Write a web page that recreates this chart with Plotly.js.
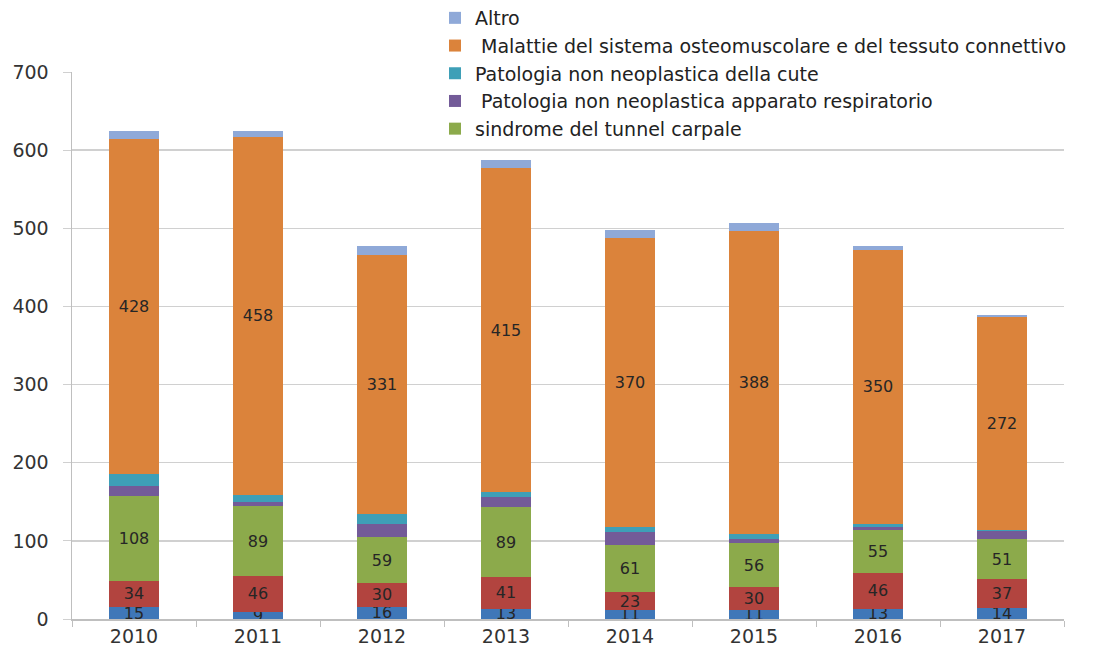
<!DOCTYPE html>
<html>
<head>
<meta charset="utf-8">
<script src="https://cdn.plot.ly/plotly-3.0.1.min.js"></script>
<style>html,body{margin:0;padding:0;background:#fff;}#chart{width:1113px;height:659px;}</style>
</head>
<body>
<div id="chart"></div>
<script>
const years = ['2010','2011','2012','2013','2014','2015','2016','2017'];
const bluePart = [15, 9, 16, 13, 11, 11, 13, 14];
const redPart = [34, 46, 30, 41, 23, 30, 46, 37];
const tunnelCarpale = [108, 89, 59, 89, 61, 56, 55, 51];
const respiratorio = [13, 6, 16, 13, 16, 6, 4, 10];
const cute = [16, 9, 14, 6, 7, 6, 4, 2];
const osteomuscolare = [428, 458, 331, 415, 370, 388, 350, 272];
const altro = [10, 7, 11, 10, 10, 10, 5, 3];

const names = {
  altro: 'Altro',
  osteo: ' Malattie del sistema osteomuscolare e del tessuto connettivo',
  cute: 'Patologia non neoplastica della cute',
  resp: ' Patologia non neoplastica apparato respiratorio',
  tunnel: 'sindrome del tunnel carpale'
};

function tr(name, y, color, labels, legend) {
  return {
    type: 'bar', x: years, y: y, name: name,
    marker: {color: color, line: {width: 0}},
    showlegend: legend,
    text: labels ? y.map(String) : undefined,
    textposition: labels ? 'inside' : 'none',
    insidetextanchor: 'middle',
    textangle: 0,
    textfont: {family: 'DejaVu Sans', size: 16, color: '#262626'},
    hoverinfo: 'x+y+name'
  };
}

const data = [
  tr('Blu', bluePart, '#3f77b8', true, false),
  tr('Rosso', redPart, '#b2443f', true, false),
  tr(names.tunnel, tunnelCarpale, '#8caa4b', true, true),
  tr(names.resp, respiratorio, '#735b98', false, true),
  tr(names.cute, cute, '#3e9fb7', false, true),
  tr(names.osteo, osteomuscolare, '#db833b', true, true),
  tr(names.altro, altro, '#8fa9d8', false, true)
];

const plotW = 1113 - 72 - 49, plotH = 659 - 72 - 40;

const layout = {
  width: 1113, height: 659,
  margin: {l: 72, r: 49, t: 72, b: 40, autoexpand: false},
  paper_bgcolor: '#fff', plot_bgcolor: '#fff',
  barmode: 'stack',
  bargap: 0.6,
  showlegend: true,
  uniformtext: {minsize: 16, mode: 'show'},
  font: {family: 'DejaVu Sans', color: '#333'},
  xaxis: {
    type: 'category',
    showgrid: false,
    showline: true, linecolor: '#bfbfbf', linewidth: 1.5,
    ticks: 'outside', tickson: 'boundaries', ticklen: 6, tickcolor: '#bfbfbf',
    tickfont: {family: 'DejaVu Sans', size: 19, color: '#333'}
  },
  yaxis: {
    range: [0, 700], dtick: 100,
    showgrid: true, gridcolor: '#d0d0d0', gridwidth: 1.5,
    showline: true, linecolor: '#bfbfbf', linewidth: 1.5,
    ticks: 'outside', ticklen: 8, tickcolor: '#d0d0d0',
    ticklabelstandoff: 10,
    zeroline: false,
    tickfont: {family: 'DejaVu Sans', size: 19, color: '#333'}
  },
  legend: {
    xref: 'paper', yref: 'paper',
    traceorder: 'reversed',
    bgcolor: 'rgba(0,0,0,0)',
    font: {family: 'DejaVu Sans', size: 19, color: '#222'},
    xanchor: 'left', yanchor: 'top',
    x: (435 - 72) / plotW,
    y: 1 + (72 + 1) / plotH
  },
  shapes: [{
    type: 'rect', xref: 'paper', yref: 'paper', layer: 'above',
    x0: (458 - 72) / plotW, x1: 1.06,
    y0: 1 - 4 / plotH, y1: 1 + 4 / plotH,
    fillcolor: '#fff', line: {width: 0}
  }]
};

Plotly.newPlot('chart', data, layout, {displayModeBar: false, staticPlot: true});
</script>
</body>
</html>
